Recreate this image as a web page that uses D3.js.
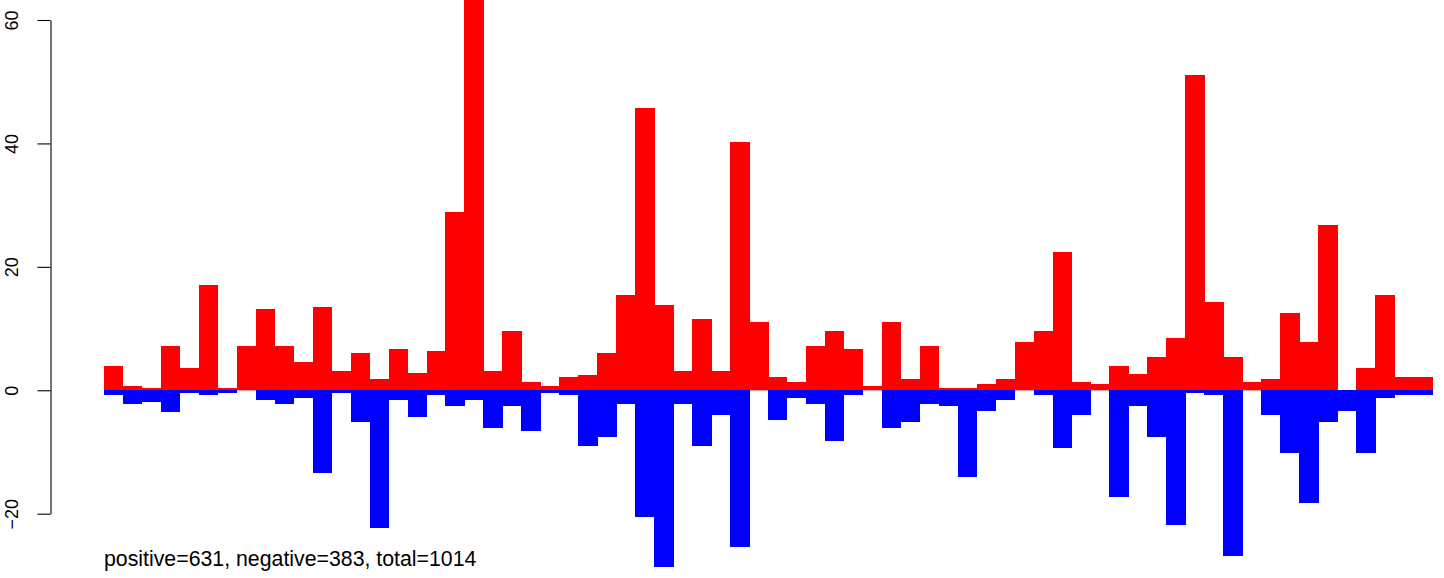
<!DOCTYPE html>
<html>
<head>
<meta charset="utf-8">
<script src="https://cdn.jsdelivr.net/npm/d3@7"></script>
<style>
  html, body { margin: 0; padding: 0; background: #fff; }
  svg { display: block; }
  text { font-family: "Liberation Sans", Arial, Helvetica, sans-serif; fill: #000; }
</style>
</head>
<body>
<svg id="chart" width="1444" height="578"></svg>
<script>
// ---- data ----
const bins = d3.range(70);
const positiveValues = [
  4.0, 0.7, 0.4, 7.2, 3.6, 17.1, 0.4, 7.2, 13.2, 7.2,
  4.6, 13.5, 3.2, 6.1, 1.9, 6.7, 2.8, 6.4, 28.9, 64.0,
  3.1, 9.6, 1.3, 0.65, 2.1, 2.4, 6.0, 15.5, 45.7, 13.8,
  3.1, 11.6, 3.1, 40.2, 11.0, 2.2, 1.4, 7.2, 9.6, 6.7,
  0.7, 11.1, 1.9, 7.2, 0.4, 0.4, 1.0, 1.9, 7.8, 9.6,
  22.4, 1.4, 1.0, 3.9, 2.7, 5.4, 8.4, 51.1, 14.3, 5.4,
  1.3, 1.8, 12.5, 7.8, 26.8, 0, 3.6, 15.5, 2.1, 2.1
];
const negativeValues = [
  -0.7, -2.2, -1.9, -3.6, -0.4, -0.8, -0.4, 0, -1.5, -2.2,
  -1.2, -13.4, -0.4, -5.1, -22.3, -1.5, -4.3, -0.8, -2.5, -1.6,
  -6.1, -2.5, -6.6, -0.4, -0.8, -9.0, -7.5, -2.2, -20.6, -28.6,
  -2.2, -9.0, -4.0, -25.4, 0, -4.8, -1.2, -2.2, -8.3, -0.7,
  0, -6.1, -5.1, -2.2, -2.5, -14.0, -3.3, -1.5, 0, -0.7,
  -9.3, -4.0, 0, -17.3, -2.5, -7.5, -21.8, -0.5, -0.8, -26.9,
  0, -4.0, -10.2, -18.3, -5.2, -3.3, -10.2, -1.3, -0.8, -0.8
];
const yTicks = [-20, 0, 20, 40, 60];
const caption = "positive=631, negative=383, total=1014";

// ---- layout ----
const svg = d3.select("#chart");
const x = d3.scaleBand().domain(bins).range([104, 1432]).paddingInner(0).paddingOuter(0);
const y = d3.scaleLinear().domain([-20, 60]).range([513.7, 20]);

// zero reference line (visible only where a bar is empty)
svg.append("line")
  .attr("x1", x.range()[0]).attr("x2", x.range()[1])
  .attr("y1", y(0) + 0.5).attr("y2", y(0) + 0.5)
  .attr("stroke", "#9a9a9a").attr("stroke-width", 1);

// positive bars
svg.append("g").attr("shape-rendering", "crispEdges").selectAll("rect")
  .data(bins)
  .join("rect")
  .attr("x", d => x(d))
  .attr("width", x.bandwidth() + 0.5)
  .attr("y", d => y(positiveValues[d]))
  .attr("height", d => y(0) - y(positiveValues[d]))
  .attr("fill", "#ff0000");

// negative bars
svg.append("g").attr("shape-rendering", "crispEdges").selectAll("rect")
  .data(bins)
  .join("rect")
  .attr("x", d => x(d))
  .attr("width", x.bandwidth() + 0.5)
  .attr("y", y(0))
  .attr("height", d => y(negativeValues[d]) - y(0))
  .attr("fill", "#0000ff");

// y axis
const axis = d3.axisLeft(y).tickValues(yTicks).tickSize(13).tickSizeOuter(0);
const gAxis = svg.append("g")
  .attr("transform", "translate(50.5,0)")
  .call(axis);
gAxis.select(".domain").attr("stroke", "#000").attr("stroke-width", 1.1);
gAxis.selectAll(".tick line").attr("stroke", "#000").attr("stroke-width", 1.1);
gAxis.selectAll(".tick text").remove();
gAxis.selectAll(".tick")
  .append("text")
  .attr("transform", "translate(-32.5,0) rotate(-90)")
  .attr("text-anchor", "middle")
  .attr("font-size", "18px")
  .attr("fill", "#000")
  .style("font-family", "'Liberation Sans', Arial, Helvetica, sans-serif")
  .text(d => y.tickFormat()(d));

// caption
svg.append("text")
  .attr("x", 104)
  .attr("y", 566)
  .attr("font-size", "21.3px")
  .text(caption);
</script>
</body>
</html>
